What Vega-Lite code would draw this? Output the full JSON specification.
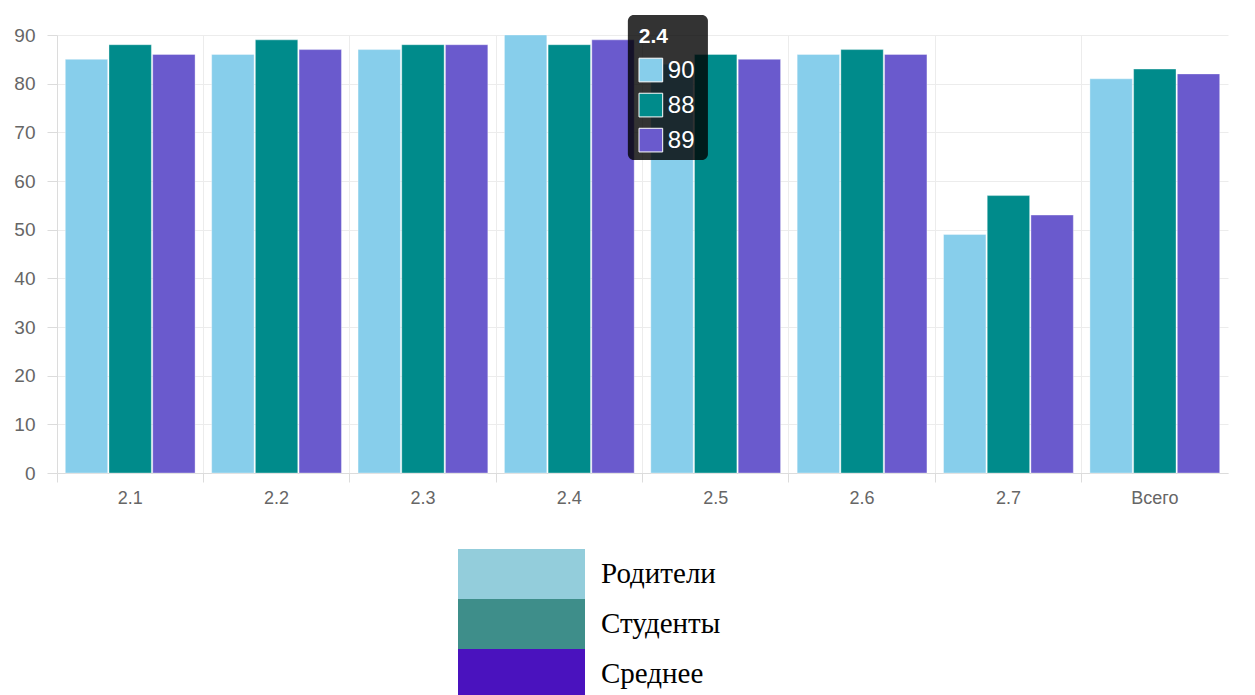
{
  "$schema": "https://vega.github.io/schema/vega-lite/v6.json",
  "width": 1198,
  "height": 438,
  "autosize": {"type": "none"},
  "padding": {"left": 57, "top": 35, "right": 0, "bottom": 222},
  "background": "white",
  "config": {
    "view": {"stroke": null},
    "font": "Liberation Sans",
    "axis": {"labelFont": "Liberation Sans", "gridColor": "#ececec", "domainColor": "#dcdcdc", "tickColor": "#dcdcdc", "labelColor": "#666666"}
  },
  "data": {
    "values": [
      {"cat": "2.1", "series": "Родители", "value": 85},
      {"cat": "2.1", "series": "Студенты", "value": 88},
      {"cat": "2.1", "series": "Среднее", "value": 86},
      {"cat": "2.2", "series": "Родители", "value": 86},
      {"cat": "2.2", "series": "Студенты", "value": 89},
      {"cat": "2.2", "series": "Среднее", "value": 87},
      {"cat": "2.3", "series": "Родители", "value": 87},
      {"cat": "2.3", "series": "Студенты", "value": 88},
      {"cat": "2.3", "series": "Среднее", "value": 88},
      {"cat": "2.4", "series": "Родители", "value": 90},
      {"cat": "2.4", "series": "Студенты", "value": 88},
      {"cat": "2.4", "series": "Среднее", "value": 89},
      {"cat": "2.5", "series": "Родители", "value": 84},
      {"cat": "2.5", "series": "Студенты", "value": 86},
      {"cat": "2.5", "series": "Среднее", "value": 85},
      {"cat": "2.6", "series": "Родители", "value": 86},
      {"cat": "2.6", "series": "Студенты", "value": 87},
      {"cat": "2.6", "series": "Среднее", "value": 86},
      {"cat": "2.7", "series": "Родители", "value": 49},
      {"cat": "2.7", "series": "Студенты", "value": 57},
      {"cat": "2.7", "series": "Среднее", "value": 53},
      {"cat": "Всего", "series": "Родители", "value": 81},
      {"cat": "Всего", "series": "Студенты", "value": 83},
      {"cat": "Всего", "series": "Среднее", "value": 82}
    ]
  },
  "layer": [
    {
      "mark": {"type": "bar", "stroke": "#ffffff", "strokeOpacity": 0.35, "strokeWidth": 1},
      "encoding": {
        "x": {
          "field": "cat", "type": "nominal", "sort": null,
          "scale": {"domain": ["2.1", "2.2", "2.3", "2.4", "2.5", "2.6", "2.7", "Всего"], "range": [0, 1171], "paddingInner": 0, "paddingOuter": 0},
          "axis": {"title": null, "labelAngle": 0, "bandPosition": 0, "grid": true, "tickSize": 9, "labelPadding": 7, "labelFontSize": 18}
        },
        "xOffset": {
          "field": "series", "type": "nominal", "sort": ["Родители", "Студенты", "Среднее"],
          "scale": {"paddingInner": 0.03, "paddingOuter": 0.19}
        },
        "y": {
          "field": "value", "type": "quantitative",
          "scale": {"domain": [0, 90], "nice": false},
          "axis": {"title": null, "values": [0, 10, 20, 30, 40, 50, 60, 70, 80, 90], "tickSize": 10, "labelPadding": 12, "labelFontSize": 19}
        },
        "color": {
          "field": "series", "type": "nominal",
          "scale": {"domain": ["Родители", "Студенты", "Среднее"], "range": ["#87CEEB", "#008B8B", "#6A5ACD"]},
          "legend": null
        }
      }
    },
    {
      "mark": {"type": "point", "size": 0, "opacity": 1, "filled": false},
      "encoding": {
        "x": {"field": "cat", "type": "nominal", "sort": null},
        "y": {"field": "value", "type": "quantitative"},
        "stroke": {
          "field": "series", "type": "nominal", "sort": ["Родители", "Студенты", "Среднее"],
          "scale": {"range": ["#93CDDB", "#3E8E8A", "#4A12BE"]},
          "legend": {
            "orient": "none", "legendX": 376, "legendY": 514, "direction": "vertical", "title": null,
            "symbolType": "M-1,0H1", "symbolSize": 16129, "symbolStrokeWidth": 50,
            "clipHeight": 50, "rowPadding": 0, "padding": 0, "labelOffset": -9,
            "labelFont": "Liberation Serif", "labelFontSize": 29, "labelColor": "#000000",
            "labelBaseline": "middle", "symbolOpacity": 1
          }
        }
      }
    },
    {
      "transform": [{"filter": "datum.cat === '2.4' && datum.series === 'Родители'"}],
      "mark": {"type": "rect", "fill": "#000000", "opacity": 0.8, "cornerRadius": 6},
      "encoding": {
        "x": {"datum": "2.4", "type": "nominal", "bandPosition": 0.9},
        "x2": {"datum": "2.5", "bandPosition": 0.447},
        "y": {"datum": 94.1, "type": "quantitative"},
        "y2": {"datum": 64.3}
      }
    },
    {
      "transform": [{"filter": "datum.cat === '2.4' && datum.series === 'Родители'"}],
      "mark": {"type": "text", "align": "left", "baseline": "alphabetic", "color": "#ffffff", "fontWeight": "bold", "fontSize": 21, "font": "Liberation Sans"},
      "encoding": {
        "x": {"datum": "2.4", "type": "nominal", "bandPosition": 0.975},
        "y": {"datum": 88.4, "type": "quantitative"},
        "text": {"field": "cat"}
      }
    },
    {
      "transform": [{"filter": "datum.cat === '2.4' && datum.series === 'Родители'"}],
      "layer": [
        {"mark": {"type": "square", "size": 560, "opacity": 1, "stroke": "#ffffff", "strokeWidth": 1},
         "encoding": {"x": {"datum": "2.5", "type": "nominal", "bandPosition": 0.057}, "y": {"datum": 82.8, "type": "quantitative"}, "color": {"field": "series", "type": "nominal", "legend": null}}},
        {"mark": {"type": "text", "align": "left", "baseline": "middle", "color": "#ffffff", "fontSize": 24, "font": "Liberation Sans"},
         "encoding": {"x": {"datum": "2.5", "type": "nominal", "bandPosition": 0.173}, "y": {"datum": 82.6, "type": "quantitative"}, "text": {"field": "value"}}}
      ]
    },
    {
      "transform": [{"filter": "datum.cat === '2.4' && datum.series === 'Студенты'"}],
      "layer": [
        {"mark": {"type": "square", "size": 560, "opacity": 1, "stroke": "#ffffff", "strokeWidth": 1},
         "encoding": {"x": {"datum": "2.5", "type": "nominal", "bandPosition": 0.057}, "y": {"datum": 75.6, "type": "quantitative"}, "color": {"field": "series", "type": "nominal", "legend": null}}},
        {"mark": {"type": "text", "align": "left", "baseline": "middle", "color": "#ffffff", "fontSize": 24, "font": "Liberation Sans"},
         "encoding": {"x": {"datum": "2.5", "type": "nominal", "bandPosition": 0.173}, "y": {"datum": 75.4, "type": "quantitative"}, "text": {"field": "value"}}}
      ]
    },
    {
      "transform": [{"filter": "datum.cat === '2.4' && datum.series === 'Среднее'"}],
      "layer": [
        {"mark": {"type": "square", "size": 560, "opacity": 1, "stroke": "#ffffff", "strokeWidth": 1},
         "encoding": {"x": {"datum": "2.5", "type": "nominal", "bandPosition": 0.057}, "y": {"datum": 68.4, "type": "quantitative"}, "color": {"field": "series", "type": "nominal", "legend": null}}},
        {"mark": {"type": "text", "align": "left", "baseline": "middle", "color": "#ffffff", "fontSize": 24, "font": "Liberation Sans"},
         "encoding": {"x": {"datum": "2.5", "type": "nominal", "bandPosition": 0.173}, "y": {"datum": 68.2, "type": "quantitative"}, "text": {"field": "value"}}}
      ]
    }
  ]
}
